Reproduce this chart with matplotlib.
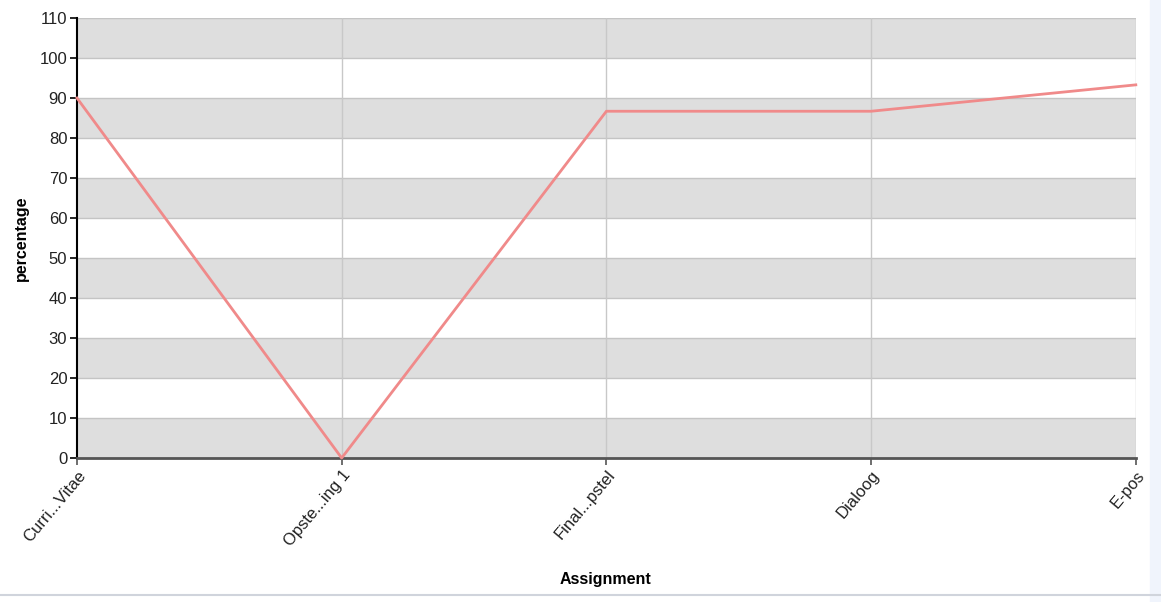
import matplotlib.pyplot as plt
import matplotlib as mpl
from matplotlib.patches import Rectangle
from matplotlib.lines import Line2D

mpl.rc('font', family=['Liberation Sans', 'DejaVu Sans'])

# data
assignments = ['Curri...Vitae', 'Opste...ing 1', 'Final...pstel', 'Dialoog', 'E-pos']
percentage = [90, 0, 86.7, 86.7, 93.3]
yticks = list(range(0, 111, 10))

fig = plt.figure(figsize=(11.61, 6.02), dpi=100)
ax = fig.add_axes([0.0663, 0.2392, 0.912, 0.7308])

# alternating bands
for lo in range(0, 110, 20):
    ax.axhspan(lo, lo + 10, color='#dedede', zorder=0, lw=0)
for y in yticks[1:]:
    ax.axhline(y, color='#c4c4c4', lw=1, zorder=1)
for i in range(1, len(assignments)):
    ax.axvline(i, color='#c8c8c8', lw=1, zorder=1)

x = list(range(len(assignments)))
ax.plot(x, percentage, color='#f08a8a', lw=2, zorder=3, clip_on=False)

ax.set_xlim(0, len(assignments) - 1)
ax.set_ylim(0, 110)
ax.set_yticks(yticks)
ax.set_xticks(x)
ax.set_xticklabels(assignments, rotation=50, ha='right', va='top',
                   rotation_mode='anchor', fontsize=12, color='#222222')
ax.tick_params(axis='y', labelsize=12, labelcolor='#222222', length=5, width=1.2, pad=2)
ax.tick_params(axis='x', length=5, width=1.2, color='#555555', pad=2)

ax.spines['top'].set_visible(False)
ax.spines['right'].set_visible(False)
ax.spines['left'].set_color('black')
ax.spines['left'].set_linewidth(1.5)
ax.spines['bottom'].set_color('#555555')
ax.spines['bottom'].set_linewidth(2)

ax.set_ylabel('percentage', fontsize=11.5, fontweight='bold')
ax.yaxis.set_label_coords(-0.045, 0.5)
ax.set_xlabel('Assignment', fontsize=11.5, fontweight='bold')
ax.xaxis.set_label_coords(0.4995, -0.259)

# window frame bits
fig.patches.append(Rectangle((0.9905, 0), 0.0095, 1, transform=fig.transFigure,
                             color='#f0f4fc', zorder=0))
fig.lines.append(Line2D([0, 1], [0.012, 0.012], transform=fig.transFigure,
                        color='#d0d4dc', lw=1.5))

fig.savefig('out.png', dpi=100)
